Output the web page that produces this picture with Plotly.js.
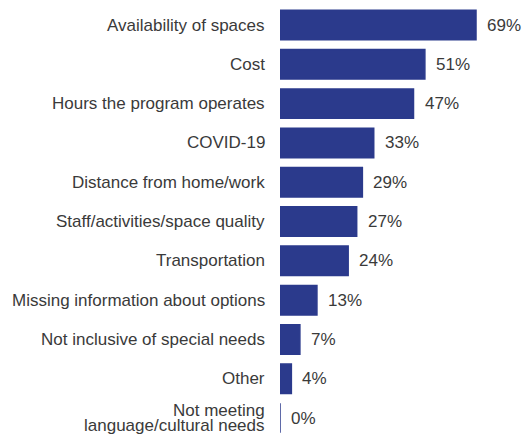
<!DOCTYPE html>
<html><head><meta charset="utf-8">
<script src="https://cdn.plot.ly/plotly-3.0.1.min.js"></script>
<style>body{margin:0;}#c{width:524px;height:435px;}</style>
</head><body><div id="c"></div>
<script>
const categories = ["Availability of spaces","Cost","Hours the program operates","COVID-19","Distance from home/work","Staff/activities/space quality","Transportation","Missing information about options","Not inclusive of special needs","Other","Not meeting<br>language/cultural needs"];
const values = [69,51,47,33,29,27,24,13,7,4,0];
const valueLabels = values.map(v => v + "%");

const barColor = "#2b3a8c";
const textColor = "#3a3a3a";
const fontFamily = "Liberation Sans, Arial, sans-serif";

const trace = {
  type: "bar", orientation: "h",
  x: values, y: categories,
  marker: {color: barColor, line: {color: barColor, width: 1.5}},
  hoverinfo: "none"
};
const annotations = [];
values.forEach((v,i) => {
  annotations.push({
    x: v, y: categories[i], xref: "x", yref: "y",
    text: valueLabels[i], showarrow: false, xanchor: "left", xshift: 9,
    font: {family: fontFamily, size: 17, color: textColor}
  });
  const lines = categories[i].split("<br>");
  const lh = 14.5;
  lines.forEach((ln, k) => {
    annotations.push({
      x: 0, y: categories[i], xref: "paper", yref: "y",
      text: ln, showarrow: false, xanchor: "right", xshift: -13,
      yshift: ((lines.length - 1) / 2 - k) * lh,
      font: {family: fontFamily, size: 17, color: textColor}
    });
  });
});
const layout = {
  width: 524, height: 435,
  margin: {l: 280, r: 0, t: 5, b: 0},
  paper_bgcolor: "#ffffff", plot_bgcolor: "#ffffff",
  showlegend: false,
  bargap: 0.25,
  xaxis: {range: [0, 85.9], showgrid: false, zeroline: false, showticklabels: false, showline: false, fixedrange: true},
  yaxis: {type: "category", range: [10.43, -0.509], showgrid: false, zeroline: false, showline: false,
          showticklabels: false, ticks: ""},
  annotations: annotations
};
Plotly.newPlot("c", [trace], layout, {displayModeBar: false, staticPlot: true});
</script></body></html>
